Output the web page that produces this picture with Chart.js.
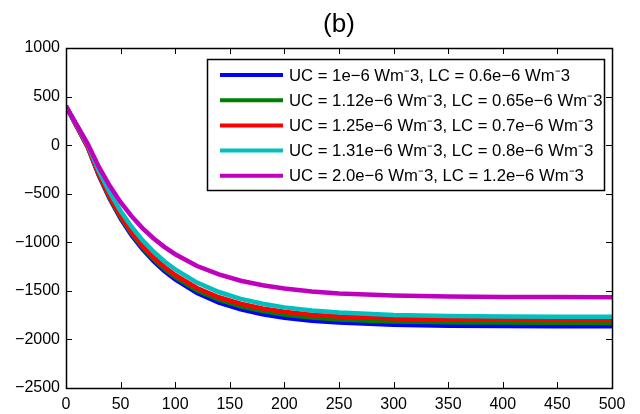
<!DOCTYPE html>
<html>
<head>
<meta charset="utf-8">
<script src="https://cdn.jsdelivr.net/npm/chart.js@4.4.0/dist/chart.umd.min.js"></script>
<style>
  html, body { margin: 0; padding: 0; background: #fff; }
</style>
</head>
<body>
<canvas id="chart" width="640" height="414"></canvas>
<script>
// x positions shared by every curve
const xValues = [0, 10, 20, 30, 40, 50, 60, 70, 80, 90, 100, 120, 140, 160, 180, 200, 225, 250, 300, 350, 400, 450, 500];

// one series per legend row
const seriesLabels = [
  "UC = 1e\u22126 Wm\u207B3, LC = 0.6e\u22126 Wm\u207B3",
  "UC = 1.12e\u22126 Wm\u207B3, LC = 0.65e\u22126 Wm\u207B3",
  "UC = 1.25e\u22126 Wm\u207B3, LC = 0.7e\u22126 Wm\u207B3",
  "UC = 1.31e\u22126 Wm\u207B3, LC = 0.8e\u22126 Wm\u207B3",
  "UC = 2.0e\u22126 Wm\u207B3, LC = 1.2e\u22126 Wm\u207B3"
];
const blueVals    = [400, 190, -20, -310, -552, -755, -926, -1070, -1192, -1295, -1383, -1522, -1620, -1690, -1740, -1776, -1807, -1827, -1849, -1858, -1862, -1864, -1865];
const greenVals   = [400, 190, -20, -304, -543, -742, -909, -1051, -1171, -1272, -1358, -1495, -1591, -1659, -1708, -1744, -1774, -1794, -1815, -1824, -1827, -1829, -1830];
const redVals     = [400, 190, -20, -299, -534, -731, -896, -1035, -1153, -1252, -1337, -1471, -1566, -1633, -1681, -1716, -1745, -1764, -1785, -1794, -1797, -1799, -1800];
const cyanVals    = [400, 200, 0, -263, -487, -678, -840, -978, -1095, -1195, -1280, -1415, -1512, -1582, -1633, -1670, -1702, -1724, -1748, -1758, -1763, -1766, -1767];
const magentaVals = [400, 205, 10, -222, -419, -587, -731, -854, -958, -1047, -1123, -1244, -1331, -1396, -1442, -1476, -1506, -1526, -1548, -1558, -1562, -1564, -1566];
const seriesColors = ["#0000ff", "#008000", "#ff0000", "#00bfbf", "#bf00bf"];

// axis ranges / ticks
const xMin = 0, xMax = 500, xStep = 50;
const yMin = -2500, yMax = 1000, yStep = 500;
const titleText = "(b)";

const FONT = "'Liberation Sans', Arial, Helvetica, sans-serif";

function toPoints(vals) {
  return vals.map((v, i) => ({ x: xValues[i], y: v }));
}

const allVals = [blueVals, greenVals, redVals, cyanVals, magentaVals];
const datasets = allVals.map((vals, i) => ({
  label: seriesLabels[i],
  data: toPoints(vals),
  borderColor: seriesColors[i],
  backgroundColor: seriesColors[i],
  borderWidth: 4.5,
  pointRadius: 0,
  tension: 0,
  fill: false,
  order: allVals.length - i   // later series drawn on top, like matlab
}));

// box, inward ticks on all four sides, title and legend
const matlabFrame = {
  id: "matlabFrame",
  afterDatasetsDraw(chart) {
    const ctx = chart.ctx;
    const a = chart.chartArea;
    const xs = chart.scales.x, ys = chart.scales.y;
    const tick = 6;
    ctx.save();
    ctx.strokeStyle = "#000";
    ctx.lineWidth = 1;
    ctx.beginPath();
    xs.ticks.forEach(t => {
      const px = Math.round(xs.getPixelForValue(t.value)) + 0.5;
      ctx.moveTo(px, a.bottom); ctx.lineTo(px, a.bottom - tick);
      ctx.moveTo(px, a.top); ctx.lineTo(px, a.top + tick);
    });
    ys.ticks.forEach(t => {
      const py = Math.round(ys.getPixelForValue(t.value)) + 0.5;
      ctx.moveTo(a.left, py); ctx.lineTo(a.left + tick, py);
      ctx.moveTo(a.right, py); ctx.lineTo(a.right - tick, py);
    });
    ctx.stroke();
    ctx.lineWidth = 1.5;
    ctx.strokeRect(Math.round(a.left) + 0.5, Math.round(a.top) + 0.5,
                   Math.round(a.right - a.left), Math.round(a.bottom - a.top));

    // title
    ctx.fillStyle = "#000";
    ctx.font = "26px " + FONT;
    ctx.textAlign = "center";
    ctx.textBaseline = "middle";
    ctx.fillText(titleText, (a.left + a.right) / 2, 25);

    // legend box
    const lx = 207, ly = 59, lw = 397, lh = 131;
    ctx.fillStyle = "#fff";
    ctx.fillRect(lx, ly, lw, lh);
    ctx.lineWidth = 1.5;
    ctx.strokeStyle = "#000";
    ctx.strokeRect(lx + 0.5, ly + 0.5, lw, lh);
    ctx.font = "16.7px " + FONT;
    ctx.textAlign = "left";
    chart.data.datasets.forEach((ds, i) => {
      const y = ly + 16 + i * 25.2;
      ctx.strokeStyle = ds.borderColor;
      ctx.lineWidth = 4;
      ctx.beginPath();
      ctx.moveTo(220, y); ctx.lineTo(283, y);
      ctx.stroke();
      ctx.fillStyle = "#000";
      ctx.fillText(ds.label, 289, y + 1);
    });
    ctx.restore();
  }
};

new Chart(document.getElementById("chart"), {
  type: "line",
  data: { datasets },
  options: {
    responsive: false,
    animation: false,
    devicePixelRatio: 1,
    layout: { padding: { top: 48, right: 28, left: 0, bottom: 0 } },
    plugins: { legend: { display: false }, title: { display: false }, tooltip: { enabled: false } },
    scales: {
      x: {
        type: "linear",
        min: xMin, max: xMax,
        grid: { display: false, drawTicks: false },
        border: { display: false },
        ticks: {
          stepSize: xStep, color: "#000", padding: 7,
          font: { family: FONT, size: 16 },
          maxRotation: 0,
          callback: v => String(v)
        },
        afterFit: s => { s.height = 26; }
      },
      y: {
        type: "linear",
        min: yMin, max: yMax,
        grid: { display: false, drawTicks: false },
        border: { display: false },
        ticks: {
          stepSize: yStep, color: "#000", padding: 6,
          font: { family: FONT, size: 16 },
          callback: v => String(v).replace("-", "\u2212")
        },
        afterFit: s => { s.width = 66; }
      }
    }
  },
  plugins: [matlabFrame]
});
</script>
</body>
</html>
